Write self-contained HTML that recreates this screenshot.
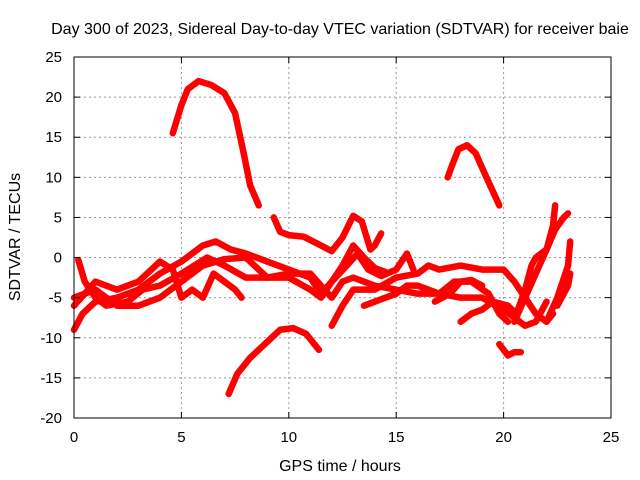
<!DOCTYPE html>
<html><head><meta charset="utf-8"><style>
body{margin:0;background:#fff;}
svg{display:block;font-family:"Liberation Sans",sans-serif;}
</style></head><body>
<svg id="chart" width="640" height="480">
<text x="340" y="34" font-size="16" text-anchor="middle">Day 300 of 2023, Sidereal Day-to-day VTEC variation (SDTVAR) for receiver baie</text>
<text x="340" y="471" font-size="16" text-anchor="middle">GPS time / hours</text>
<text transform="translate(20,237) rotate(-90)" font-size="16" text-anchor="middle">SDTVAR / TECUs</text>
<g id="grid"></g><g id="series"></g><g id="axes"></g>
</svg>
<script>
const xTicks=[0,5,10,15,20,25];
const yTicks=[-20,-15,-10,-5,0,5,10,15,20,25];
const trackA=[[4.6,15.5],[5,19],[5.3,21],[5.8,22],[6.4,21.5],[7,20.5],[7.5,18],[7.9,13],[8.2,9],[8.6,6.5]];
const trackB=[[9.3,5],[9.6,3.2],[10,2.8],[10.7,2.6],[11.5,1.5],[12,0.8],[12.5,2.5],[13,5.2],[13.4,4.5],[13.8,1],[14,1.5],[14.3,3]];
const trackC=[[17.4,10],[17.6,11.5],[17.9,13.5],[18.3,14],[18.7,13],[19.2,10],[19.8,6.5]];
const trackD=[[7.2,-17],[7.6,-14.5],[8.2,-12.5],[9,-10.5],[9.6,-9],[10.2,-8.8],[10.8,-9.5],[11.4,-11.5]];
const trackE=[[19.8,-10.8],[20.2,-12.2],[20.5,-11.8],[20.8,-11.8]];
const trackF1=[[0,-9],[0.4,-7],[1,-5.5],[2,-5],[3,-4],[4,-2],[5,-0.5],[6,1.5],[6.6,2],[7.3,1],[8,0.5],[9,-0.5],[10,-1.5],[11,-2.5],[11.5,-4.5],[12,-3],[12.7,-1],[13.2,0.5],[13.7,-1.5],[14.3,-2.3],[15,-1.5],[15.5,0.5],[15.8,-1.5]];
const trackF2=[[0,-5],[1,-4],[2,-6],[3,-6],[4,-5],[5,-3],[6,-1],[7,-0.2],[8,0],[9,-2.5],[10,-2.5],[11,-4],[11.5,-5],[12,-3],[12.5,-1],[13,1.5],[13.5,0],[14,-1.3],[14.5,-1.8]];
const trackF3=[[0,-6],[1,-3],[2,-4],[3,-3],[4,-0.5],[4.6,-1.5],[5,-5],[5.5,-4],[6,-5],[6.5,-2],[7.5,-4],[7.8,-5]];
const trackF4=[[0.2,-0.3],[0.5,-3],[1,-5],[1.5,-6],[2.5,-5.5],[3.2,-4],[4,-3.5],[5,-2],[6.2,0],[7,-1],[8,-2.5],[9,-2.5],[10,-2],[11,-2],[11.5,-3.5],[12,-5],[12.5,-3],[13,-2.5],[14,-3.5],[15,-4],[16,-4.5],[17,-4.5],[18,-5],[19,-5],[20,-6.5],[20.5,-7.5],[21,-8.5],[21.5,-8],[22,-5.5]];
const trackF5=[[12,-8.5],[12.5,-6],[13,-4],[14,-4],[15,-2.5],[16,-2],[16.5,-1],[17,-1.5],[18,-1],[19,-1.5],[20,-1.5],[20.5,-3],[21,-5],[21.5,-7],[22,-8],[22.3,-7]];
const trackF6=[[13.5,-6],[14,-5.5],[15,-4.5],[15.5,-3.5],[16,-3.5],[17,-4.5],[17.7,-3],[18.5,-3],[19.3,-4.5],[19.8,-7],[20.2,-8]];
const trackF7=[[18,-8],[18.5,-7],[19,-6.5],[19.5,-5.5],[20.2,-6],[20.6,-7],[21,-4],[21.3,-1],[21.5,0],[22,1],[22.4,3.5],[22.8,5],[23,5.5]];
const trackF8=[[20.5,-8],[21,-5],[21.5,-2],[22,1],[22.3,4],[22.4,6.5]];
const trackF9=[[22,-8],[22.5,-5],[23,-1],[23.1,2]];
const trackF10=[[22.5,-6],[23,-3.5],[23.1,-2]];
const trackF11=[[16.8,-5.5],[17.5,-4.5],[18,-3],[18.5,-2.8],[19,-3.5]];
const tracks=[trackA,trackB,trackC,trackD,trackE,trackF1,trackF2,trackF3,trackF4,trackF5,trackF6,trackF7,trackF8,trackF9,trackF10,trackF11];
const X0=74,X1=611,Y0=418,Y1=57;
const sx=v=>X0+(v-0)/(25-0)*(X1-X0);
const sy=v=>Y0-(v+20)/(45)*(Y0-Y1);
const NS="http://www.w3.org/2000/svg";
const mk=(t,a,p)=>{const e=document.createElementNS(NS,t);for(const k in a)e.setAttribute(k,a[k]);p.appendChild(e);return e;};
const grid=document.getElementById('grid'),axes=document.getElementById('axes'),series=document.getElementById('series');
xTicks.forEach(t=>{const x=sx(t);
 if(t>0&&t<25){const g=mk('line',{x1:x,x2:x,y1:Y1,y2:Y0,stroke:'#999','stroke-dasharray':'2,3'},grid);
 
 }
 mk('line',{x1:x,x2:x,y1:Y0,y2:Y0-6,stroke:'#000'},axes);
 mk('line',{x1:x,x2:x,y1:Y1,y2:Y1+6,stroke:'#000'},axes);
 const l=mk('text',{x:x,y:Y0+24,'font-size':15,'text-anchor':'middle'},axes);l.textContent=t;
 
 });
yTicks.forEach(t=>{const y=sy(t);
 if(t>-20&&t<25){const g=mk('line',{x1:X0,x2:X1,y1:y,y2:y,stroke:'#999','stroke-dasharray':'2,3'},grid);
 
 }
 mk('line',{x1:X0,x2:X0+6,y1:y,y2:y,stroke:'#000'},axes);
 mk('line',{x1:X1,x2:X1-6,y1:y,y2:y,stroke:'#000'},axes);
 const l=mk('text',{x:X0-12,y:y+5,'font-size':15,'text-anchor':'end'},axes);l.textContent=t;
 
 });
const fr=mk('rect',{x:X0,y:Y1,width:X1-X0,height:Y0-Y1,fill:'none',stroke:'#000'},axes);


tracks.forEach(tr=>{
 const p=mk('polyline',{points:tr.map(d=>sx(d[0])+','+sy(d[1])).join(' '),fill:'none',stroke:'#f00','stroke-width':6.5,'stroke-linejoin':'round','stroke-linecap':'round'},series);
 
 
});
</script>
</body></html>
